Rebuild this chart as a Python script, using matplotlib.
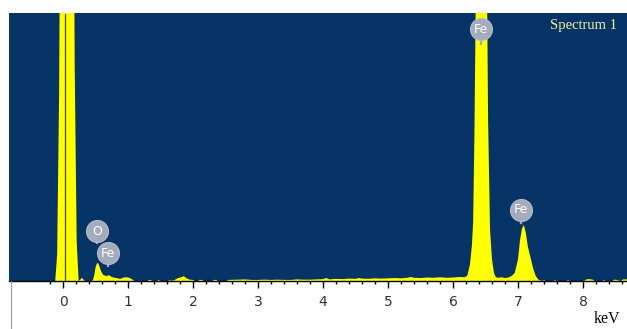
import matplotlib.pyplot as plt
from matplotlib.lines import Line2D

# EDS spectrum, energy in keV and counts (axis full scale = 1000)
energy = [
    -0.83, -0.12, -0.09, -0.06, -0.03, 0.00, 0.05, 0.10, 0.14, 0.18, 0.21, 0.24,
    0.27, 0.29, 0.31, 0.34, 0.44, 0.46, 0.48, 0.50, 0.52, 0.54, 0.56, 0.58,
    0.60, 0.62, 0.65, 0.68, 0.70, 0.73, 0.76, 0.80, 0.84, 0.88, 0.92, 0.96,
    1.00, 1.04, 1.07, 1.10, 1.30, 1.32, 1.35, 1.37, 1.45, 1.47, 1.50, 1.62,
    1.64, 1.66, 1.72, 1.76, 1.82, 1.86, 1.90, 1.95, 2.00, 2.03, 2.08, 2.10,
    2.14, 2.16, 2.30, 2.32, 2.36, 2.38, 2.52, 2.54, 2.70, 2.80, 2.90, 3.00,
    3.10, 3.20, 3.30, 3.40, 3.50, 3.60, 3.70, 3.80, 3.90, 4.00, 4.05, 4.10,
    4.20, 4.30, 4.40, 4.50, 4.55, 4.60, 4.70, 4.80, 4.90, 5.00, 5.10, 5.20,
    5.30, 5.35, 5.40, 5.50, 5.60, 5.70, 5.80, 5.90, 6.00, 6.10, 6.18, 6.22,
    6.26, 6.29, 6.31, 6.33, 6.36, 6.40, 6.43, 6.47, 6.51, 6.54, 6.57, 6.60,
    6.63, 6.66, 6.70, 6.75, 6.80, 6.85, 6.90, 6.95, 7.00, 7.03, 7.06, 7.09,
    7.12, 7.15, 7.19, 7.23, 7.27, 7.31, 7.34, 7.38, 7.40, 7.42, 7.55, 7.57,
    7.59, 7.75, 7.77, 7.79, 8.02, 8.05, 8.10, 8.15, 8.18, 8.30, 8.32, 8.34,
    8.45, 8.48, 8.52, 8.58, 8.62, 8.68,
]
counts = [
    0, 0, 100, 700, 2000, 3500, 5000, 4000, 2500, 800, 150, 0,
    6, 12, 6, 0, 0, 4, 20, 50, 65, 67, 55, 40,
    30, 22, 20, 18, 22, 18, 14, 12, 10, 8, 12, 14,
    13, 10, 5, 0, 0, 4, 4, 0, 0, 4, 0, 0,
    4, 0, 4, 10, 14, 18, 10, 5, 4, 0, 0, 4,
    4, 0, 0, 4, 4, 0, 0, 4, 5, 6, 4, 4,
    5, 4, 5, 4, 4, 6, 5, 5, 6, 7, 11, 6,
    8, 7, 9, 8, 11, 9, 8, 10, 9, 10, 11, 10,
    12, 15, 12, 11, 13, 12, 14, 12, 13, 15, 14, 20,
    60, 130, 220, 550, 1300, 2600, 2900, 2600, 1500, 600, 190, 80,
    30, 14, 12, 14, 11, 13, 18, 30, 80, 150, 195, 209,
    180, 130, 90, 50, 20, 6, 2, 0, 4, 0, 0, 4,
    0, 0, 4, 0, 0, 6, 7, 5, 0, 0, 4, 0,
    0, 5, 4, 0, 6, 6,
]

# element markers: name, energy, label height, stem end
peak_names = ["Fe", "O", "Fe", "Fe"]
peak_x = [6.43, 0.53, 0.69, 7.05]
peak_label_y = [940, 185, 104, 265]
peak_stem_y = [885, 142, 55, 218]

x_major = list(range(0, 9))
x_minor = [round(-0.2 + 0.2 * i, 1) for i in range(45)]

bg_blue = "#073466"
fig = plt.figure(figsize=(6.27, 3.29), dpi=100)
ax = fig.add_axes([9 / 627, 48 / 329, 618 / 627, 268 / 329])
ax.set_facecolor(bg_blue)

ax.fill_between(energy, counts, 0, color="#ffff00", linewidth=0, zorder=2)
ax.axvline(0.03, ymin=0, ymax=0.995, color="#4a4a20", lw=0.9, zorder=3)

for name, x, ly, sy in zip(peak_names, peak_x, peak_label_y, peak_stem_y):
    ax.plot([x, x], [ly, sy], color="#a4acbc", lw=1.6, zorder=4)
    ax.scatter([x], [ly], s=250, color="#a4acbc", edgecolors="#b4bccb",
               linewidths=0.8, zorder=5)
    ax.text(x, ly, name, color="white", fontsize=9, ha="center",
            va="center", zorder=6)

ax.set_xlim(-0.831, 8.677)
ax.set_ylim(0, 1000)
ax.set_yticks([])
ax.set_xticks(x_major)
ax.set_xticks(x_minor, minor=True)
ax.tick_params(axis="x", which="major", length=5, width=1, color="black",
               labelsize=10, labelcolor="#333333", pad=5)
ax.tick_params(axis="x", which="minor", length=2.5, width=1, color="black")
for side in ["top", "left", "right"]:
    ax.spines[side].set_visible(False)
ax.spines["bottom"].set_color("black")
ax.spines["bottom"].set_linewidth(1)

fig.add_artist(Line2D([10.5 / 627, 10.5 / 627], [0, 48 / 329],
                      color="#9a9a9a", lw=0.8))
fig.text(550 / 627, (329 - 25) / 329, "Spectrum 1", color="#f2efa0",
         fontsize=10.5, family="Liberation Serif", ha="left", va="center")
fig.text(594 / 627, (329 - 319) / 329, "keV", color="black",
         fontsize=11.5, family="Liberation Serif", ha="left", va="center")

fig.savefig("out.png", dpi=100)
